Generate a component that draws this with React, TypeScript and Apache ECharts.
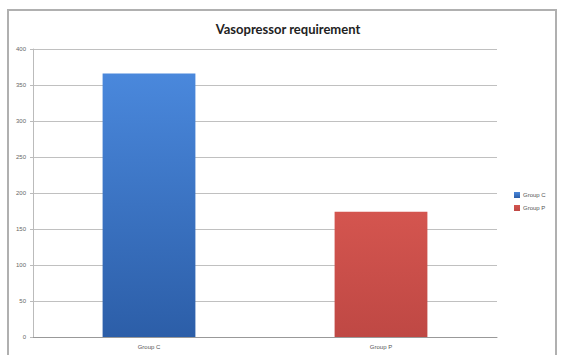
import React, { useEffect, useRef } from "react";
import * as echarts from "echarts";

const categories = ["Group C", "Group P"];
const seriesNames = ["Group C", "Group P"];
const valuesC = [366, null];
const valuesP = [null, 174];
const yTicks = { min: 0, max: 400, interval: 50 };

export default function App() {
  const ref = useRef<HTMLDivElement>(null);
  useEffect(() => {
    const chart = echarts.init(ref.current!, undefined, { renderer: "svg" });
    const blue = new echarts.graphic.LinearGradient(0, 0, 0, 1, [
      { offset: 0, color: "#4a88dc" },
      { offset: 1, color: "#2c5ea8" },
    ]);
    const red = new echarts.graphic.LinearGradient(0, 0, 0, 1, [
      { offset: 0, color: "#d4554f" },
      { offset: 1, color: "#bf4844" },
    ]);
    chart.setOption({
      animation: false,
      backgroundColor: "#ffffff",
      title: {
        text: "Vasopressor requirement",
        left: 283,
        textAlign: "center",
        top: 17,
        textStyle: { fontFamily: "Lato", fontWeight: "bold", fontSize: 13, color: "#222" },
      },
      graphic: [
        {
          type: "rect",
          shape: { x: 8, y: 10, width: 548, height: 360 },
          style: { fill: "none", stroke: "#b0b0b0", lineWidth: 2 },
          silent: true,
        },
      ],
      legend: {
        orient: "vertical",
        left: 509,
        top: 187,
        itemWidth: 6,
        itemHeight: 6,
        itemGap: 7,
        icon: "rect",
        textStyle: { fontSize: 6, color: "#555", fontFamily: "Liberation Sans", padding: [0, 0, 0, -2] },
        data: seriesNames,
      },
      grid: { left: 33, right: 79, top: 49, bottom: 18 },
      xAxis: {
        type: "category",
        data: categories,
        axisLine: { lineStyle: { color: "#999" } },
        axisTick: { show: false },
        axisLabel: { fontSize: 6, color: "#555", margin: 7, fontFamily: "Liberation Sans" },
      },
      yAxis: {
        type: "value",
        min: yTicks.min,
        max: yTicks.max,
        interval: yTicks.interval,
        axisLine: { show: true, lineStyle: { color: "#bbb" } },
        axisTick: { show: true, length: 3, lineStyle: { color: "#bbb" } },
        axisLabel: { fontSize: 6, color: "#666", margin: 7, fontFamily: "Liberation Sans" },
        splitLine: { lineStyle: { color: "#c0c0c0" } },
      },
      series: [
        {
          name: seriesNames[0],
          type: "bar",
          stack: "s",
          data: valuesC,
          barWidth: "40%",
          itemStyle: { color: blue },
        },
        {
          name: seriesNames[1],
          type: "bar",
          stack: "s",
          data: valuesP,
          barWidth: "40%",
          itemStyle: { color: red },
        },
      ],
    });
    return () => chart.dispose();
  }, []);
  return <div ref={ref} style={{ width: 576, height: 355, position: "absolute", left: 0, top: 0 }} />;
}
